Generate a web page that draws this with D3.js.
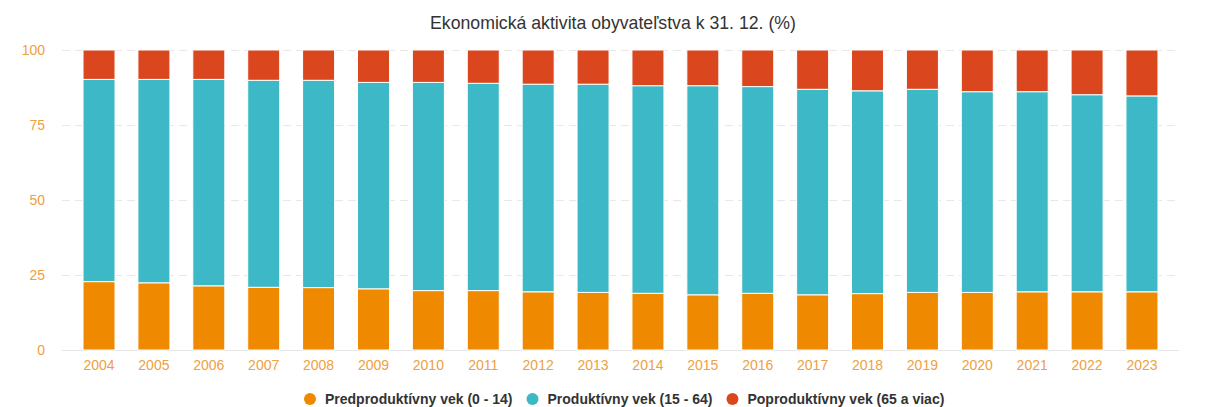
<!DOCTYPE html>
<html>
<head>
    <meta charset="UTF-8">
    <script src="https://d3js.org/d3.v7.min.js"></script>
    <style>
        body { margin: 0; background: #fff; }
        text { font-family: "Liberation Sans", Arial, sans-serif; }
        .axis-x text, .axis-y text { font-size: 14px; fill: #efa040; }
        .title { font-size: 17.7px; fill: #333; }
        .legend text { font-size: 14px; font-weight: bold; fill: #333; }
    </style>
</head>
<body>
    <svg id="chart" width="1209" height="407"></svg>

    <script>
        // data (percent of population)
        let years = ["2004","2005","2006","2007","2008","2009","2010","2011","2012","2013",
                     "2014","2015","2016","2017","2018","2019","2020","2021","2022","2023"]
        let predproduktivny = [22.8, 22.4, 21.4, 20.9, 20.8, 20.4, 19.8, 19.8, 19.4, 19.2,
                               18.9, 18.4, 18.9, 18.4, 18.8, 19.2, 19.2, 19.4, 19.4, 19.4]
        let produktivny = [67.4, 67.8, 68.8, 69.0, 69.1, 68.8, 69.4, 69.1, 69.2, 69.4,
                           69.2, 69.7, 68.9, 68.5, 67.6, 67.7, 66.9, 66.7, 65.7, 65.3]
        let poproduktivny = [9.8, 9.8, 9.8, 10.1, 10.1, 10.8, 10.8, 11.1, 11.4, 11.4,
                             11.9, 11.9, 12.2, 13.1, 13.6, 13.1, 13.9, 13.9, 14.9, 15.3]
        let yTicks = [0, 25, 50, 75, 100]
        let seriesNames = ["Predproduktívny vek (0 - 14)", "Produktívny vek (15 - 64)", "Poproduktívny vek (65 a viac)"]
        let seriesColors = ["#ef8a00", "#3db8c6", "#da461e"]

        let rows = years.map((y, i) => ({
            year: y, pre: predproduktivny[i], prod: produktivny[i], post: poproduktivny[i]
        }))

        let svg = d3.select("#chart")
        let plotLeft = 62, plotRight = 1179, plotTop = 50, plotBottom = 350

        let xScale = d3.scaleBand()
            .domain(years)
            .range([plotLeft, plotRight])
            .paddingInner(0.417)
            .paddingOuter(0.383)
        let yScale = d3.scaleLinear()
            .domain([0, 100])
            .range([plotBottom, plotTop])

        // title
        svg.append("text")
            .attr("class", "title")
            .attr("x", 613)
            .attr("y", 29)
            .attr("text-anchor", "middle")
            .text("Ekonomická aktivita obyvateľstva k 31. 12. (%)")

        // gridlines
        svg.append("g")
            .selectAll("line")
            .data(yTicks)
            .join("line")
            .attr("x1", plotLeft)
            .attr("x2", plotRight)
            .attr("y1", d => yScale(d) + 0.5)
            .attr("y2", d => yScale(d) + 0.5)
            .attr("stroke", d => d === 0 ? "#e6e6e6" : "#e8e8e8")
            .attr("stroke-dasharray", d => d === 0 ? null : "8,5")

        // y axis
        let yAxis = svg.append("g")
            .attr("class", "axis-y")
            .attr("transform", "translate(" + plotLeft + ",0)")
            .call(d3.axisLeft(yScale).tickValues(yTicks).tickSize(0).tickPadding(17))
        yAxis.select(".domain").remove()

        // x axis
        let xAxis = svg.append("g")
            .attr("class", "axis-x")
            .attr("transform", "translate(0," + plotBottom + ")")
            .call(d3.axisBottom(xScale).tickSize(0).tickPadding(10))
        xAxis.select(".domain").remove()

        // stacked bars
        let stack = d3.stack().keys(["pre", "prod", "post"])
        let layers = stack(rows)

        svg.append("g")
            .selectAll("g")
            .data(layers)
            .join("g")
            .attr("fill", (d, i) => seriesColors[i])
            .selectAll("rect")
            .data(d => d)
            .join("rect")
            .attr("x", d => xScale(d.data.year))
            .attr("y", d => yScale(d[1]))
            .attr("width", xScale.bandwidth())
            .attr("height", d => yScale(d[0]) - yScale(d[1]))
            .attr("stroke", "#fff")
            .attr("stroke-width", 1)

        // legend, items laid out one after another
        let legend = svg.append("g")
            .attr("class", "legend")
        let lx = 310
        seriesNames.forEach((name, i) => {
            let item = legend.append("g")
                .attr("transform", "translate(" + lx + ",399)")
            item.append("circle")
                .attr("r", 6)
                .attr("fill", seriesColors[i])
            let t = item.append("text")
                .attr("x", 15)
                .attr("dy", "0.35em")
                .text(name)
            lx += 15 + t.node().getComputedTextLength() + 20
        })
    </script>
</body>
</html>
